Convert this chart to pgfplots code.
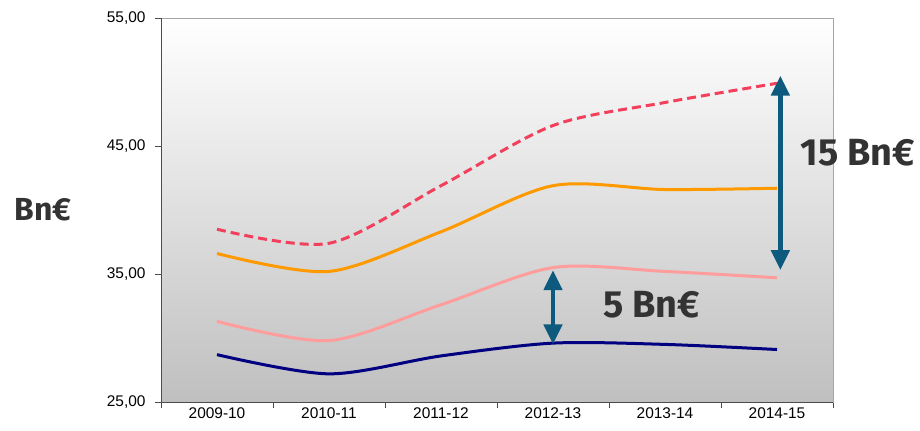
\documentclass[border=0pt]{standalone}
\usepackage{fontspec}
\setmainfont{Liberation Sans}
\newfontfamily\bnfont{Fira Sans}
\usepackage{pgfplots}
\pgfplotsset{compat=1.18}
\usetikzlibrary{arrows.meta, calc}
\definecolor{lineRed}{HTML}{F2405C}
\definecolor{lineOrange}{HTML}{FF9900}
\definecolor{linePink}{HTML}{FF9C9C}
\definecolor{lineNavy}{HTML}{000080}
\definecolor{arrowBlue}{HTML}{0E5A7F}
\definecolor{labelInk}{HTML}{333333}

\begin{document}
\begin{tikzpicture}
\begin{axis}[
  scale only axis,
  width=672bp, height=384bp,
  xmin=-0.5, xmax=5.5,
  ymin=25, ymax=55,
  ytick={25,35,45,55},
  xtick={-0.5,0.5,...,5.5},
  xticklabels={},
  extra x ticks={0,1,2,3,4,5},
  extra x tick labels={2009-10,2010-11,2011-12,2012-13,2013-14,2014-15},
  extra x tick style={major tick length=0pt},
  xtick pos=bottom, ytick pos=left,
  tick align=outside,
  major tick length=6bp,
  tick style={color=black!70, line width=0.8bp},
  axis line style={color=gray!70, line width=0.8bp},
  tick label style={font=\fontsize{15.5}{17}\selectfont, color=black},
  xticklabel style={yshift=-2bp},
  yticklabel style={xshift=-6bp},
  /pgf/number format/.cd, fixed, fixed zerofill, precision=2, use comma,
  assume math mode=true,
  /pgfplots/.cd,
  axis background/.style={top color=white, bottom color=gray!50},
  clip=false,
]
\draw[black!70, line width=1bp] (rel axis cs:0,1) -- (rel axis cs:0,0) -- (rel axis cs:1,0);
\coordinate (sw) at (rel axis cs:0,0);
\coordinate (ne) at (rel axis cs:1,1);

% upper scenario (dashed)
\addplot[lineRed, line width=3bp, dash pattern=on 9bp off 5bp, smooth] coordinates {
  (0,38.5) (1,37.4) (2,41.9) (3,46.6) (4,48.4) (5,49.9)
};
\addplot[lineOrange, line width=3bp, smooth] coordinates {
  (0,36.6) (1,35.2) (2,38.3) (3,41.9) (4,41.6) (5,41.7)
};
\addplot[linePink, line width=3bp, smooth] coordinates {
  (0,31.3) (1,29.8) (2,32.6) (3,35.5) (4,35.2) (5,34.7)
};
\addplot[lineNavy, line width=3bp, smooth] coordinates {
  (0,28.7) (1,27.2) (2,28.6) (3,29.6) (4,29.5) (5,29.1)
};

% gap arrows and labels
\draw[arrowBlue, line width=4.5bp, {Triangle[length=20bp,width=18bp]}-{Triangle[length=20bp,width=18bp]}]
  (axis cs:5.03,50.5) -- (axis cs:5.03,35.3);
\draw[arrowBlue, line width=4.5bp, {Triangle[length=20bp,width=18bp]}-{Triangle[length=20bp,width=18bp]}]
  (axis cs:3,35.3) -- (axis cs:3,29.5);
\node[font=\bnfont\bfseries\fontsize{38}{42}\selectfont, text=labelInk] at (axis cs:5.72,44.45) {15 Bn€};
\node[font=\bnfont\bfseries\fontsize{38}{42}\selectfont, text=labelInk] at (axis cs:3.88,32.6) {5 Bn€};
\end{axis}
\node[font=\bnfont\bfseries\fontsize{32}{36}\selectfont, text=labelInk] at ($(sw)!0.5!(sw|-ne)+(-118bp,0)$) {Bn€};
\pgfresetboundingbox
\path ($(sw)+(-161bp,-28bp)$) rectangle ($(ne)+(87bp,18bp)$);
\end{tikzpicture}
\end{document}
